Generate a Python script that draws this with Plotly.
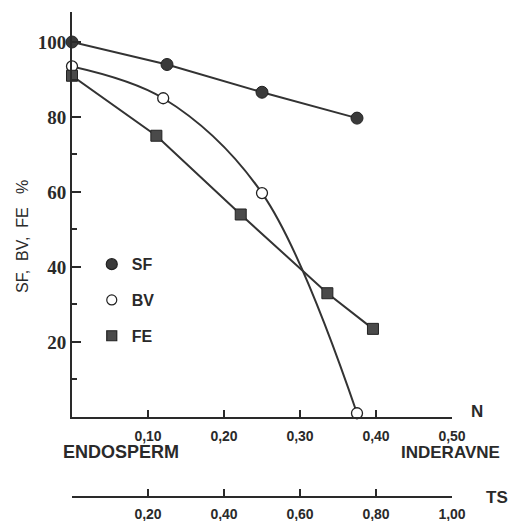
import plotly.graph_objects as go

# Data
sf_x = [0.0, 0.125, 0.25, 0.375]
sf_y = [100, 94, 86.6, 79.7]
bv_x = [0.0, 0.12, 0.25, 0.375]
bv_y = [93.5, 85, 59.7, 1.0]
fe_x = [0.0, 0.111, 0.222, 0.336, 0.396]
fe_y = [91, 75, 54, 33, 23.5]

n_tickvals = [0.1, 0.2, 0.3, 0.4, 0.5]
n_ticktext = ["0,10", "0,20", "0,30", "0,40", "0,50"]
ts_tickvals = [0.2, 0.4, 0.6, 0.8, 1.0]
ts_ticktext = ["0,20", "0,40", "0,60", "0,80", "1,00"]
y_tickvals = [20, 40, 60, 80, 100]
y_ticktext = ["20", "40", "60", "80", "100"]

INK = "#2a2a2a"
LINE = "#333333"

fig = go.Figure()

fig.add_trace(go.Scatter(x=sf_x, y=sf_y, mode="lines+markers", showlegend=False,
                         line=dict(color=LINE, width=2),
                         marker=dict(symbol="circle", size=12, color="#3a3a3a",
                                     line=dict(color="#222", width=1)),
                         cliponaxis=False))
fig.add_trace(go.Scatter(x=bv_x, y=bv_y, mode="lines+markers", showlegend=False,
                         line=dict(color=LINE, width=2, shape="spline", smoothing=1.0),
                         marker=dict(symbol="circle", size=11, color="white",
                                     line=dict(color="#222", width=1.3)),
                         cliponaxis=False))
fig.add_trace(go.Scatter(x=fe_x, y=fe_y, mode="lines+markers", showlegend=False,
                         line=dict(color=LINE, width=2),
                         marker=dict(symbol="square", size=11, color="#4a4a4a",
                                     line=dict(color="#222", width=1)),
                         cliponaxis=False))

for name, sym, col, sz in [("SF", "circle", "#3a3a3a", 11),
                           ("BV", "circle", "white", 10),
                           ("FE", "square", "#4a4a4a", 10)]:
    fig.add_trace(go.Scatter(x=[None], y=[None], mode="markers", name=name,
                             legendgroup=name,
                             marker=dict(symbol=sym, size=sz, color=col,
                                         line=dict(color="#222", width=1.2))))

fig.add_trace(go.Scatter(x=[0, 1], y=[None, None], xaxis="x2", yaxis="y",
                         showlegend=False, hoverinfo="skip"))

tickfont = dict(family="Liberation Sans", size=14, color=INK, weight="bold")

fig.update_layout(
    width=509, height=521,
    margin=dict(l=72, r=57, t=12, b=24, autoexpand=False),
    paper_bgcolor="white", plot_bgcolor="white",
    font=dict(family="Liberation Sans", color=INK, size=13),
    xaxis=dict(range=[0, 0.5], showgrid=False, zeroline=False, automargin=False,
               showline=True, linecolor=INK, linewidth=2,
               ticks="inside", ticklen=7, tickwidth=1.5, tickcolor=INK,
               tickvals=n_tickvals, ticktext=n_ticktext,
               tickfont=tickfont, ticklabelstandoff=5,
               anchor="y"),
    xaxis2=dict(range=[0, 1.0], overlaying="x", anchor="free", position=0,
                side="bottom", showgrid=False, zeroline=False, automargin=False,
                showline=True, linecolor=INK, linewidth=2,
                ticks="inside", ticklen=7, tickwidth=1.5, tickcolor=INK,
                tickvals=ts_tickvals, ticktext=ts_ticktext,
                tickfont=tickfont, ticklabelstandoff=4),
    yaxis=dict(range=[0, 108], domain=[0.165, 1], showgrid=False, zeroline=False,
               automargin=False,
               showline=True, linecolor=INK, linewidth=2,
               ticks="inside", ticklen=9, tickwidth=1.5, tickcolor=INK,
               tickvals=y_tickvals, ticktext=y_ticktext,
               tickfont=dict(family="Liberation Serif", size=19, color=INK, weight="bold"),
               ticklabelstandoff=0,
               minor=dict(ticks="inside", ticklen=5, tickwidth=1.5, tickcolor=INK,
                          tick0=0, dtick=10)),
    legend=dict(x=0.052, y=0.515, xanchor="left", yanchor="top",
                bgcolor="rgba(0,0,0,0)", tracegroupgap=12,
                font=dict(family="Liberation Sans", size=16, color=INK, weight="bold")),
    annotations=[
        dict(text="SF,  BV,  FE   %", xref="paper", yref="paper", x=-0.132, y=0.538,
             xanchor="center", yanchor="middle",
             textangle=-90, showarrow=False,
             font=dict(family="Liberation Sans", size=16, color=INK)),
        dict(text="<b>ENDOSPERM</b>", xref="paper", yref="paper", x=-0.026, y=0.093,
             xanchor="left", yanchor="middle", showarrow=False, borderpad=0,
             font=dict(family="Liberation Sans", size=18, color=INK)),
        dict(text="<b>INDERAVNE</b>", xref="paper", yref="paper", x=1.128, y=0.092,
             xanchor="right", yanchor="middle", showarrow=False, borderpad=0,
             font=dict(family="Liberation Sans", size=17, color=INK)),
        dict(text="<b>N</b>", xref="paper", yref="paper", x=1.066, y=0.177,
             xanchor="center", yanchor="middle", showarrow=False,
             font=dict(family="Liberation Sans", size=17, color=INK)),
        dict(text="<b>TS</b>", xref="paper", yref="paper", x=1.118, y=0.0,
             xanchor="center", yanchor="middle", showarrow=False,
             font=dict(family="Liberation Sans", size=17, color=INK)),
    ],
)

fig.write_html("out.html", config=dict(displayModeBar=False),
               post_script="document.body.style.margin='0';document.body.style.overflow='hidden';")
